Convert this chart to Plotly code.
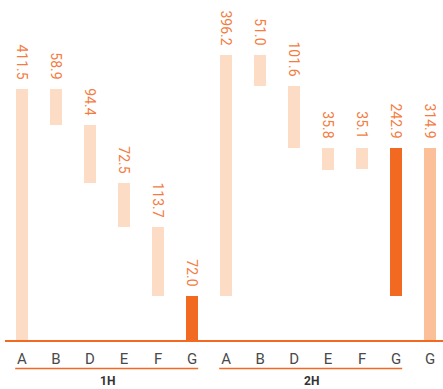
import plotly.graph_objects as go

# ---- data ----
groups = ["1H", "2H", ""]
cats_1h = ["A", "B", "D", "E", "F", "G"]
vals_1h = [411.5, 58.9, 94.4, 72.5, 113.7, 72.0]
kind_1h = ["total", "down", "down", "down", "down", "total"]

cats_2h = ["A", "B", "D", "E", "F", "G"]
vals_2h = [396.2, 51.0, 101.6, 35.8, 35.1, 242.9]
kind_2h = ["up", "down", "down", "side", "side", "net"]

cats_tot = ["G"]
vals_tot = [314.9]
kind_tot = ["total"]

LIGHT = "#FDDCC5"
DARK = "#F26922"
MID = "#FBC097"
TXT = "#F47C3F"

cats = cats_1h + cats_2h + cats_tot
vals = vals_1h + vals_2h + vals_tot
kinds = kind_1h + kind_2h + kind_tot
group_of = [0] * len(cats_1h) + [1] * len(cats_2h) + [2] * len(cats_tot)

# compute bases through a running level
bases = []
level = 0.0
period_start = 0.0
prev_g = None
for v, k, g in zip(vals, kinds, group_of):
    if g != prev_g:
        period_start = level
        prev_g = g
    if k == "total":
        b = 0.0
        level = v
    elif k == "up":
        b = level
        level += v
    elif k == "down":
        level -= v
        b = level
    elif k == "side":
        b = level - v
    elif k == "net":
        b = period_start
        level = period_start + v
    bases.append(b)

colors = []
for i, (k, g) in enumerate(zip(kinds, group_of)):
    if g == 2:
        colors.append(MID)
    elif k in ("total", "net") and cats[i] == "G":
        colors.append(DARK)
    else:
        colors.append(LIGHT)

xs = list(range(len(cats)))

fig = go.Figure()
fig.add_trace(go.Bar(
    x=xs, y=vals, base=bases,
    width=0.36,
    marker=dict(color=colors, line=dict(width=0)),
    text=[f"{v:.1f}\u00a0\u2009" for v in vals],
    textposition="outside",
    textangle=90,
    constraintext="none",
    cliponaxis=False,
    textfont=dict(family="Roboto", size=14, color=TXT),
    hoverinfo="skip",
))

# group underlines and labels
for gi, name in enumerate(groups):
    idx = [i for i, g in enumerate(group_of) if g == gi]
    if not name:
        continue
    x0, x1 = idx[0], idx[-1]
    fig.add_shape(type="line", xref="x", yref="paper",
                  x0=x0 - 0.2, x1=x1 + 0.18, y0=-0.084, y1=-0.084,
                  line=dict(color=DARK, width=1.5))
    fig.add_annotation(x=(x0 + x1) / 2, xref="x", y=-0.121, yref="paper",
                       text=f"<b>{name}</b>", showarrow=False,
                       font=dict(family="Roboto", size=12, color="#333333"),
                       xanchor="center", yanchor="middle")

fig.update_layout(
    width=443, height=389,
    margin=dict(l=5, r=0, t=0, b=49),
    paper_bgcolor="white", plot_bgcolor="white",
    showlegend=False,
    bargap=0,
    xaxis=dict(
        range=[-0.5, 12.38],
        tickmode="array", tickvals=xs, ticktext=cats,
        showgrid=False, zeroline=False,
        showline=True, linecolor=DARK, linewidth=1.5,
        ticks="", tickfont=dict(family="Roboto", size=15, color="#4a4a4a"),
        ticklabelstandoff=4,
    ),
    yaxis=dict(range=[0, 558], visible=False, showgrid=False, zeroline=False),
)

fig.write_html("out.html")
